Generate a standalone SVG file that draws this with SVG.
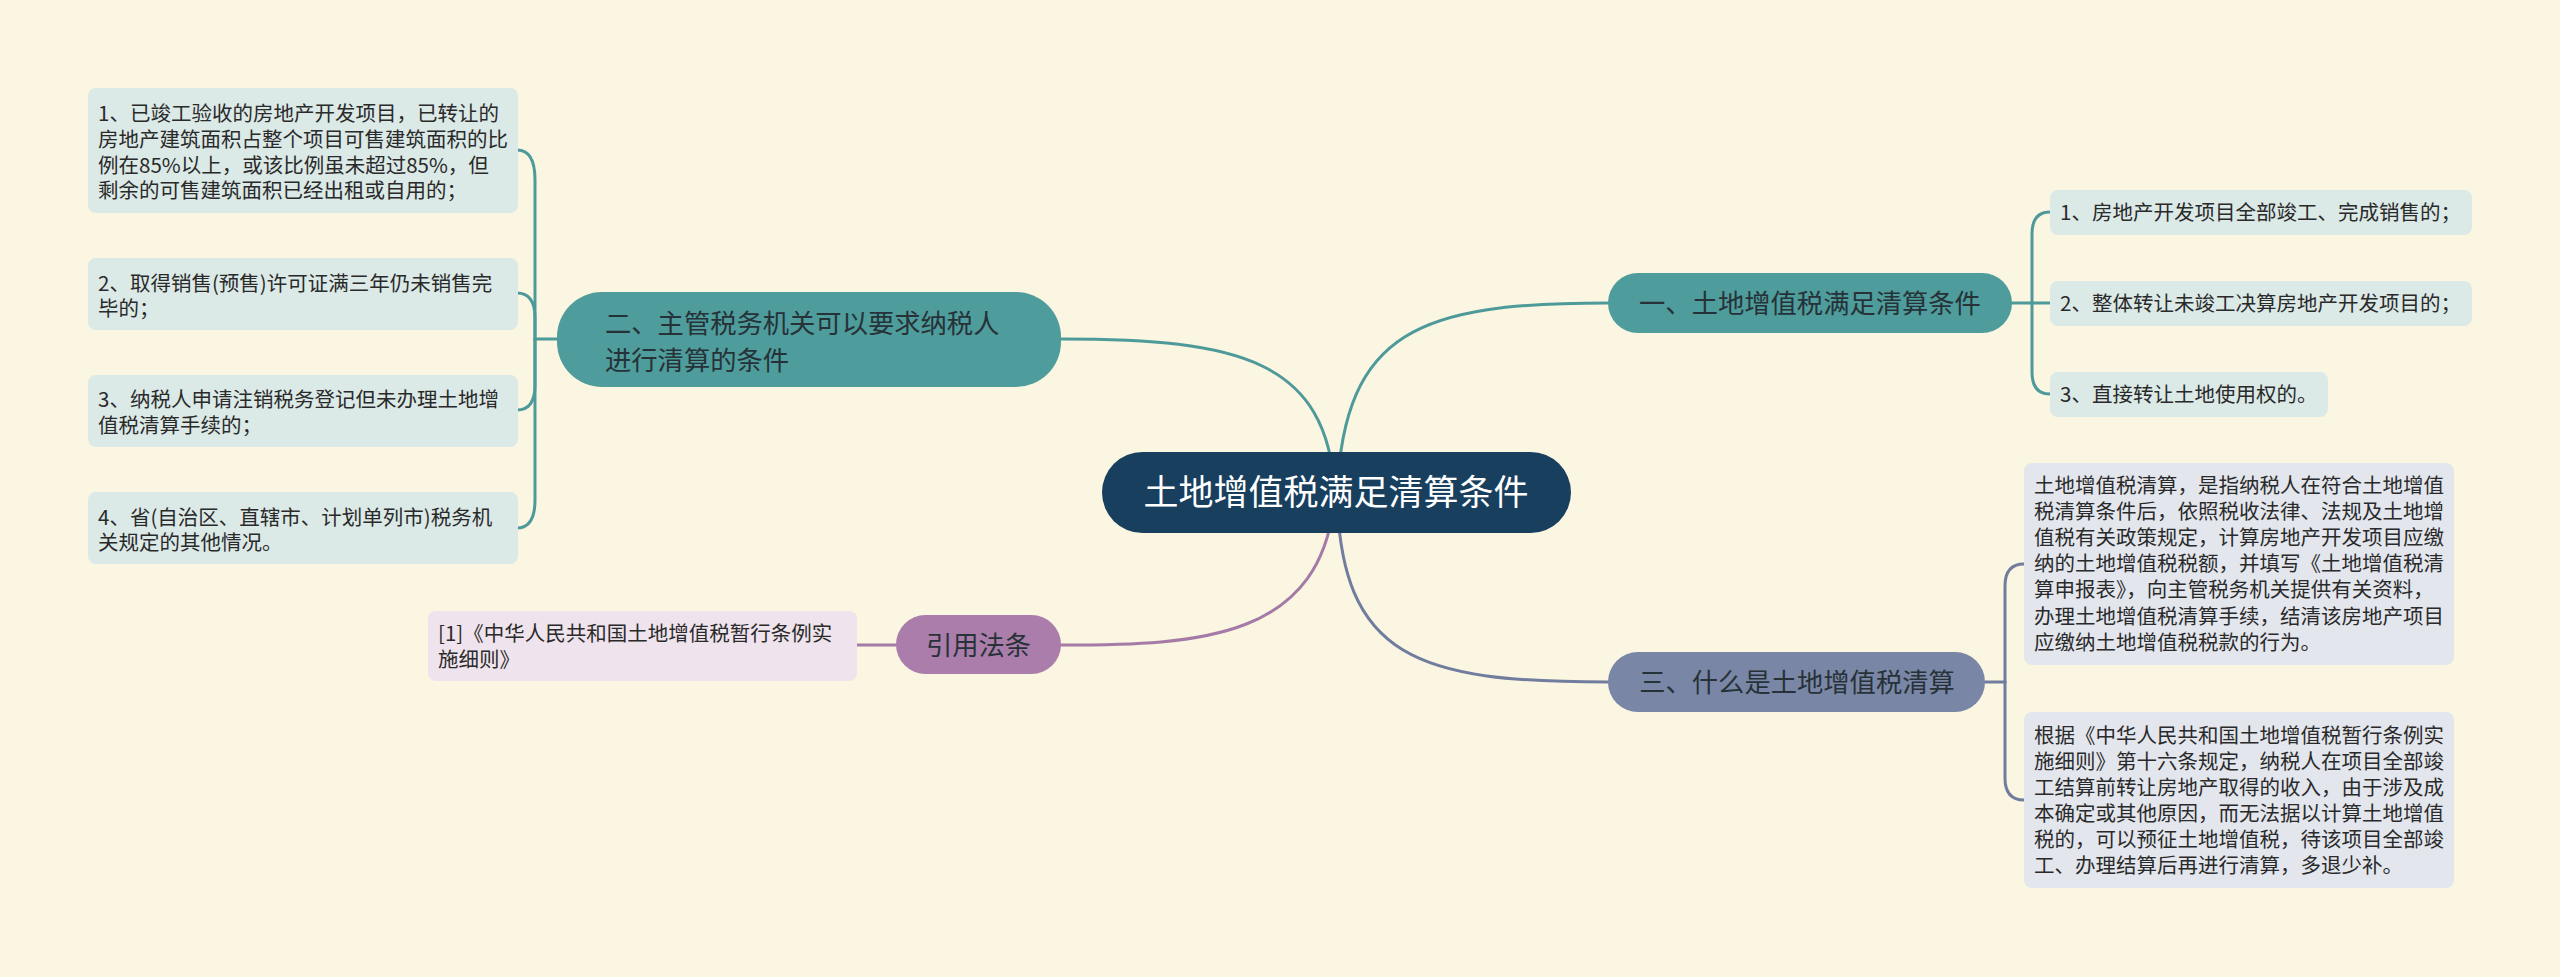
<svg xmlns="http://www.w3.org/2000/svg" width="2560" height="977" viewBox="0 0 2560 977">
<style>
  text { font-family: "Noto Sans CJK SC", "Noto Sans", sans-serif; }
  .bg { fill: #fbf6e1; }
  .c { fill: none; stroke-width: 3; stroke-linecap: round; }
  .teal { stroke: #4e9a9a; }
  .slate { stroke: #717d9e; }
  .plum { stroke: #a57aa6; }
  .root { fill: #183f5e; }
  .roottxt { fill: #ffffff; font-size: 35px; }
  .n-teal { fill: #4e9c9b; }
  .n-slate { fill: #7a86a6; }
  .n-plum { fill: #aa7daa; }
  .ntxt { fill: #263238; font-size: 26.3px; }
  .l-teal { fill: #dbe9e7; }
  .l-slate { fill: #e3e6ed; }
  .l-plum { fill: #efe3ed; }
  .ltxt { fill: #2a2a2a; font-size: 20.5px; }
</style>
<rect class="bg" x="0" y="0" width="2560" height="977"/>

<g id="connectors">
  <!-- root to main branches -->
  <path class="c teal" d="M 1337 492 C 1345 330, 1420 303, 1608 303"/>
  <path class="c teal" d="M 1335 492 C 1327 360, 1240 339, 1061 339"/>
  <path class="c slate" d="M 1337 492 C 1340 660, 1420 682, 1608 682"/>
  <path class="c plum" d="M 1335 492 C 1325 640, 1200 645, 1061 645"/>
  <!-- branch 一 bracket -->
  <path class="c teal" d="M 2012 303 L 2050 303"/>
  <path class="c teal" d="M 2032 303 L 2032 234 Q 2032 212 2050 212"/>
  <path class="c teal" d="M 2032 303 L 2032 372 Q 2032 394 2050 394"/>
  <!-- branch 三 bracket -->
  <path class="c slate" d="M 1985 682 L 2005 682"/>
  <path class="c slate" d="M 2005 682 L 2005 586 Q 2005 564 2024 564"/>
  <path class="c slate" d="M 2005 682 L 2005 778 Q 2005 800 2024 800"/>
  <!-- branch 二 bracket -->
  <path class="c teal" d="M 557 339 L 535 339"/>
  <path class="c teal" d="M 535 339 L 535 180 Q 535 150 517 150"/>
  <path class="c teal" d="M 535 339 L 535 318 Q 535 293 517 293"/>
  <path class="c teal" d="M 535 339 L 535 385 Q 535 410 517 410"/>
  <path class="c teal" d="M 535 339 L 535 500 Q 535 528 517 528"/>
  <!-- 引用法条 -->
  <path class="c plum" d="M 857 645 L 896 645"/>
</g>

<g id="root">
  <rect class="root" x="1102" y="452" width="469" height="81" rx="40.5"/>
  <text class="roottxt" x="1336" y="505" text-anchor="middle">土地增值税满足清算条件</text>
</g>

<g id="branch1">
  <rect class="n-teal" x="1608" y="273" width="404" height="60" rx="30"/>
  <text class="ntxt" x="1810" y="313" text-anchor="middle">一、土地增值税满足清算条件</text>
</g>
<g id="leaf1-1">
  <rect class="l-teal" x="2050" y="190" width="422" height="45" rx="8"/>
  <text class="ltxt" x="2060" y="220">1、房地产开发项目全部竣工、完成销售的；</text>
</g>
<g id="leaf1-2">
  <rect class="l-teal" x="2050" y="281" width="422" height="45" rx="8"/>
  <text class="ltxt" x="2060" y="311">2、整体转让未竣工决算房地产开发项目的；</text>
</g>
<g id="leaf1-3">
  <rect class="l-teal" x="2050" y="372" width="278" height="45" rx="8"/>
  <text class="ltxt" x="2060" y="402">3、直接转让土地使用权的。</text>
</g>

<g id="branch2">
  <rect class="n-teal" x="557" y="292" width="504" height="95" rx="45"/>
  <text class="ntxt" x="605" y="333">二、主管税务机关可以要求纳税人<tspan x="605" y="370">进行清算的条件</tspan></text>
</g>
<g id="leaf2-1">
  <rect class="l-teal" x="88" y="88" width="430" height="125" rx="8"/>
  <text class="ltxt" x="98" y="121">1、已竣工验收的房地产开发项目，已转让的<tspan x="98" y="147">房地产建筑面积占整个项目可售建筑面积的比</tspan><tspan x="98" y="172.5">例在85%以上，或该比例虽未超过85%，但</tspan><tspan x="98" y="198">剩余的可售建筑面积已经出租或自用的；</tspan></text>
</g>
<g id="leaf2-2">
  <rect class="l-teal" x="88" y="258" width="430" height="72" rx="8"/>
  <text class="ltxt" x="98" y="291">2、取得销售(预售)许可证满三年仍未销售完<tspan x="98" y="316">毕的；</tspan></text>
</g>
<g id="leaf2-3">
  <rect class="l-teal" x="88" y="375" width="430" height="72" rx="8"/>
  <text class="ltxt" x="98" y="407">3、纳税人申请注销税务登记但未办理土地增<tspan x="98" y="433">值税清算手续的；</tspan></text>
</g>
<g id="leaf2-4">
  <rect class="l-teal" x="88" y="492" width="430" height="72" rx="8"/>
  <text class="ltxt" x="98" y="525">4、省(自治区、直辖市、计划单列市)税务机<tspan x="98" y="550">关规定的其他情况。</tspan></text>
</g>

<g id="branch3">
  <rect class="n-slate" x="1608" y="652" width="377" height="60" rx="30"/>
  <text class="ntxt" x="1797" y="692" text-anchor="middle">三、什么是土地增值税清算</text>
</g>
<g id="leaf3-1">
  <rect class="l-slate" x="2024" y="463" width="430" height="202" rx="8"/>
  <text class="ltxt" x="2034" y="493">土地增值税清算，是指纳税人在符合土地增值<tspan x="2034" y="519.1">税清算条件后，依照税收法律、法规及土地增</tspan><tspan x="2034" y="545.2">值税有关政策规定，计算房地产开发项目应缴</tspan><tspan x="2034" y="571.3">纳的土地增值税税额，并填写《土地增值税清</tspan><tspan x="2034" y="597.4">算申报表》，向主管税务机关提供有关资料，</tspan><tspan x="2034" y="623.5">办理土地增值税清算手续，结清该房地产项目</tspan><tspan x="2034" y="649.6">应缴纳土地增值税税款的行为。</tspan></text>
</g>
<g id="leaf3-2">
  <rect class="l-slate" x="2024" y="712" width="430" height="176" rx="8"/>
  <text class="ltxt" x="2034" y="743">根据《中华人民共和国土地增值税暂行条例实<tspan x="2034" y="769">施细则》第十六条规定，纳税人在项目全部竣</tspan><tspan x="2034" y="795">工结算前转让房地产取得的收入，由于涉及成</tspan><tspan x="2034" y="821">本确定或其他原因，而无法据以计算土地增值</tspan><tspan x="2034" y="847">税的，可以预征土地增值税，待该项目全部竣</tspan><tspan x="2034" y="873">工、办理结算后再进行清算，多退少补。</tspan></text>
</g>

<g id="branch4">
  <rect class="n-plum" x="896" y="615" width="165" height="59" rx="29.5"/>
  <text class="ntxt" x="978.5" y="655" text-anchor="middle">引用法条</text>
</g>
<g id="leaf4-1">
  <rect class="l-plum" x="428" y="611" width="429" height="70" rx="8"/>
  <text class="ltxt" x="438" y="641">[1]《中华人民共和国土地增值税暂行条例实<tspan x="438" y="667">施细则》</tspan></text>
</g>
</svg>
